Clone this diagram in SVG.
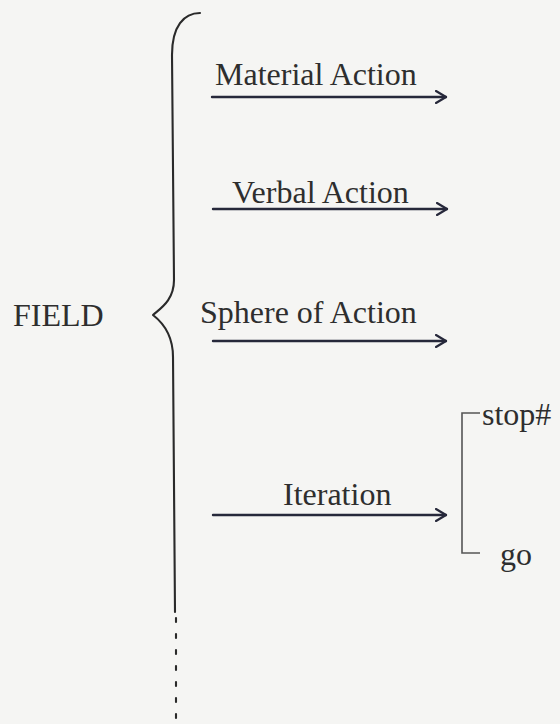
<svg xmlns="http://www.w3.org/2000/svg" width="560" height="724" viewBox="0 0 560 724">
  <defs>
    <style>
      .lbl { font-family: "Liberation Serif", "Times New Roman", serif; font-size: 32px; fill: #2e2e2e; }
      .line { fill: none; stroke: #26283a; stroke-width: 2.4; stroke-linecap: round; }
      .brace { fill: none; stroke: #2a2a2a; stroke-width: 2.1; stroke-linecap: round; stroke-linejoin: round; }
      .bracket { fill: none; stroke: #555; stroke-width: 1.6; }
    </style>
    <marker id="open-arrow" viewBox="0 0 12 14" refX="11" refY="7" markerWidth="12" markerHeight="14" markerUnits="userSpaceOnUse" orient="auto">
      <path d="M1,1 L11,7 L1,13" fill="none" stroke="#26283a" stroke-width="2.2" stroke-linecap="round" stroke-linejoin="round"/>
    </marker>
  </defs>

  <rect x="0" y="0" width="560" height="724" fill="#f5f5f3"/>

  <!-- the field node with its brace -->
  <g id="field">
    <text class="lbl" x="13" y="326">FIELD</text>
    <path class="brace" d="M200,13 C184,13 172,26 172,55 L174,280 C174,300 161,308 153,315 C162,322 173,334 173,357 L175,612"/>
    <path class="brace" d="M176,618 L176,724" stroke-dasharray="4 12" stroke-width="2.4"/>
  </g>

  <!-- option labels -->
  <g id="material-action">
    <text class="lbl" x="215" y="85">Material Action</text>
  </g>
  <g id="verbal-action">
    <text class="lbl" x="232" y="203">Verbal Action</text>
  </g>
  <g id="sphere-of-action">
    <text class="lbl" x="200" y="323">Sphere of Action</text>
  </g>
  <g id="iteration">
    <text class="lbl" x="283" y="505">Iteration</text>
  </g>

  <!-- iteration choices -->
  <g id="iteration-choices">
    <path class="bracket" d="M480,413 L462,413 L462,553 L480,553"/>
    <text class="lbl" x="482" y="425">stop#</text>
    <text class="lbl" x="500" y="565">go</text>
  </g>

  <!-- connectors -->
  <g id="connectors">
    <line class="line" x1="212" y1="97" x2="446" y2="97" marker-end="url(#open-arrow)"/>
    <line class="line" x1="213" y1="209" x2="447" y2="209" marker-end="url(#open-arrow)"/>
    <line class="line" x1="213" y1="341" x2="446" y2="341" marker-end="url(#open-arrow)"/>
    <line class="line" x1="213" y1="515" x2="446" y2="515" marker-end="url(#open-arrow)"/>
  </g>
</svg>
